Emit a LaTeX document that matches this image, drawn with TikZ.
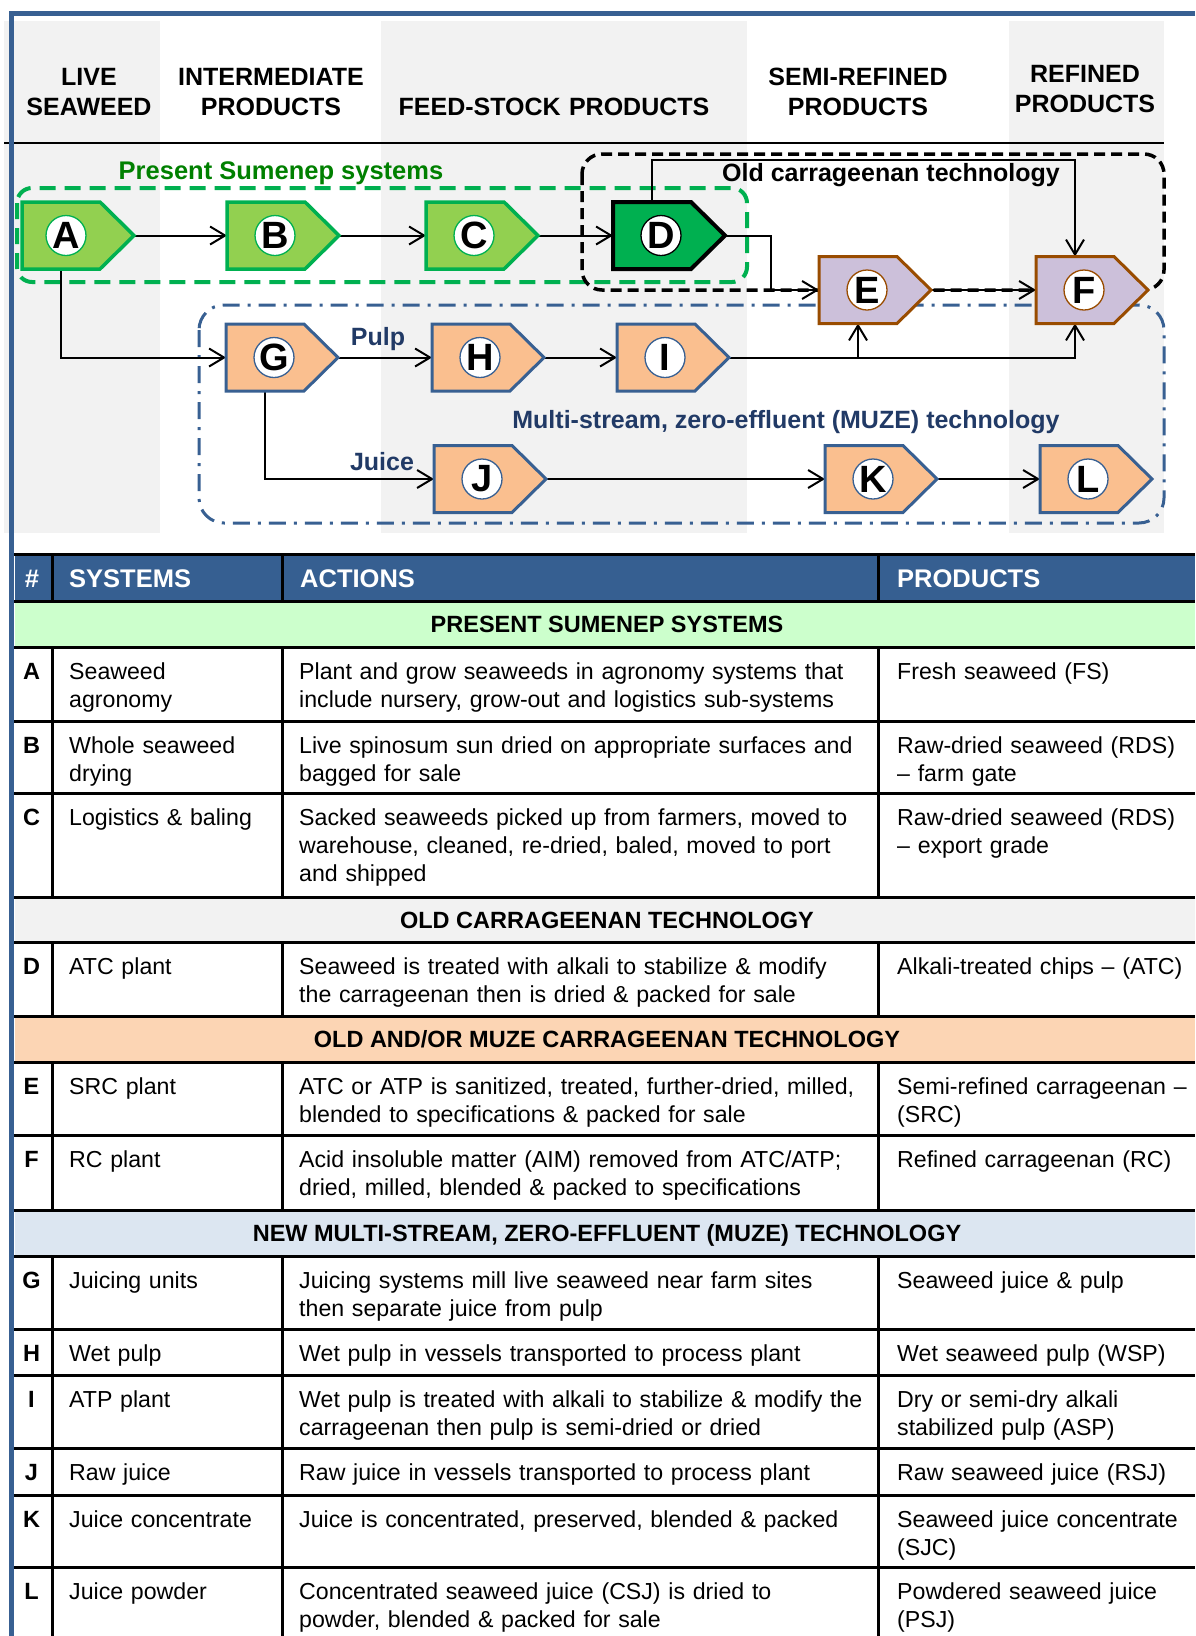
\documentclass[tikz,border=0pt]{standalone}
\usepackage{fontspec}
\setmainfont{Liberation Sans}
\usetikzlibrary{arrows.meta,calc}
\definecolor{frameblue}{RGB}{56,96,146}
\definecolor{hdrblue}{RGB}{54,95,145}
\definecolor{bandgray}{RGB}{242,242,242}
\definecolor{lgreen}{RGB}{146,208,80}
\definecolor{mgreen}{RGB}{0,176,80}
\definecolor{dgreen}{RGB}{0,128,0}
\definecolor{lav}{RGB}{204,192,218}
\definecolor{ebrown}{RGB}{153,76,0}
\definecolor{peach}{RGB}{250,191,143}
\definecolor{navytext}{RGB}{33,58,102}
\definecolor{secgreen}{RGB}{204,255,204}
\definecolor{secgray}{RGB}{242,242,242}
\definecolor{secorange}{RGB}{252,213,180}
\definecolor{secblue}{RGB}{220,230,241}

\newcommand{\drawstage}[4][-8]{%
  \path[#3] (#2.north west) -- ($(#2.north east)+(-34,0)$) -- (#2.east) -- ($(#2.south east)+(-34,0)$) -- (#2.south west) -- cycle;
  \node[lettercirc,draw=#4] (#2c) at ($(#2.center)+(#1,0)$) {#2};
}
\newcommand{\datarow}[5]{%
  \node[numtxt] (num#2) at (31.5,#1+32.5) {#2};
  \node[celltxt,text width=210pt] (sys#2) at (69,#1+32.5) {#3};
  \node[celltxt,text width=575pt] (act#2) at (299,#1+32.5) {#4};
  \node[celltxt,text width=300pt] (prd#2) at (897,#1+32.5) {#5};
}
\newcommand{\secrow}[5]{%
  \fill[#3] (15,#1) rectangle (1195,#2);
  \node[sectxt] (#4) at (607,#1+31) {#5};
}

\begin{document}
\begin{tikzpicture}[x=1pt,y=-1pt,
  stagebox/.style={minimum width=112pt,minimum height=67pt,inner sep=0pt,outer sep=0pt},
  greenstage/.style={fill=lgreen,draw=mgreen,line width=3.5pt},
  darkstage/.style={fill=mgreen,draw=black,line width=4pt},
  lavstage/.style={fill=lav,draw=ebrown,line width=3pt},
  peachstage/.style={fill=peach,draw=frameblue,line width=3pt},
  lettercirc/.style={circle,fill=white,minimum size=40pt,inner sep=0pt,line width=1.3pt,font=\fontsize{38}{38}\selectfont\bfseries},
  flow/.style={line width=2pt,-{Straight Barb[length=15pt,width=18pt]}},
  colhdr/.style={anchor=base,inner sep=0pt,text width=260pt,align=center,font=\fontsize{25}{30}\selectfont\bfseries},
  dlabel/.style={anchor=base,inner sep=0pt,font=\fontsize{25}{30}\selectfont\bfseries},
  tline/.style={line width=3pt},
  celltxt/.style={anchor=base west,inner sep=0pt,align=left,font=\fontsize{23.15}{28}\selectfont},
  numtxt/.style={anchor=base,inner sep=0pt,font=\fontsize{23.5}{28}\selectfont\bfseries},
  hdrtxt/.style={anchor=base west,inner sep=0pt,text=white,font=\fontsize{25.5}{30}\selectfont\bfseries},
  sectxt/.style={anchor=base,inner sep=0pt,font=\fontsize{23.5}{28}\selectfont\bfseries}
]
\useasboundingbox (0,0) rectangle (1195,1636);

% column bands
\fill[bandgray] (4,21) rectangle (160,533);
\fill[bandgray] (381,21) rectangle (747,533);
\fill[bandgray] (1009,21) rectangle (1164,533);
\draw[line width=1.5pt] (4,143) -- (1164,143);

% column headers
\node[colhdr] (hLive) at (89,85) {LIVE\\SEAWEED};
\node[colhdr] (hInter) at (271,85) {INTERMEDIATE\\PRODUCTS};
\node[colhdr,text width=400pt] (hFeed) at (554,115) {FEED-STOCK PRODUCTS};
\node[colhdr] (hSemi) at (858,85) {SEMI-REFINED\\PRODUCTS};
\node[colhdr] (hRef) at (1085,82) {REFINED\\PRODUCTS};

% group boxes
\draw[mgreen,line width=4pt,dash pattern=on 16pt off 9pt,rounded corners=15pt] (17,188) rectangle (747,282);
\draw[black,line width=3.5pt,dash pattern=on 11pt off 6pt,rounded corners=20pt] (582,154) rectangle (1164,290);
\draw[frameblue,line width=3pt,dash pattern=on 17pt off 8pt on 3pt off 8pt,rounded corners=25pt] (199,305) rectangle (1164,523);

% stage placeholders
\node[stagebox] (A) at (78,235.5) {};
\node[stagebox] (B) at (283,235.5) {};
\node[stagebox] (C) at (482,235.5) {};
\node[stagebox] (D) at (669,235.5) {};
\node[stagebox] (E) at (875,290) {};
\node[stagebox] (F) at (1092,290) {};
\node[stagebox] (G) at (282,357.5) {};
\node[stagebox] (H) at (488,357.5) {};
\node[stagebox] (I) at (673,357.5) {};
\node[stagebox] (J) at (490,479) {};
\node[stagebox] (K) at (881,479) {};
\node[stagebox] (L) at (1096,479) {};

\coordinate (Ebot) at ($(E.south)+(-17,0)$);
\coordinate (Fbot) at ($(F.south)+(-17,0)$);
\coordinate (Ftop) at ($(F.north)+(-17,0)$);

% connectors
\draw[flow] (A.east) -- (B.west);
\draw[flow] (B.east) -- (C.west);
\draw[flow] (C.east) -- (D.west);
\draw[flow] (D.east) -- ++(46,0) |- (E.west);
\draw[flow] (E.east) -- (F.west);
\draw[flow] ($(D.north)+(-17,0)$) -- ++(0,-42) -| (Ftop);
\draw[flow] ($(A.south)+(-17,0)$) |- (G.west);
\draw[flow] (G.east) -- (H.west);
\draw[flow] (H.east) -- (I.west);
\draw[flow] (I.east) -| (Fbot);
\draw[flow] (I.east -| Ebot) -- (Ebot);
\draw[flow] ($(G.south)+(-17,0)$) |- (J.west);
\draw[flow] (J.east) -- (K.west);
\draw[flow] (K.east) -- (L.west);

% stages
\drawstage[-12]{A}{greenstage}{mgreen}
\drawstage{B}{greenstage}{mgreen}
\drawstage{C}{greenstage}{mgreen}
\drawstage{D}{darkstage}{black}
\drawstage{E}{lavstage}{ebrown}
\drawstage{F}{lavstage}{ebrown}
\drawstage{G}{peachstage}{frameblue}
\drawstage{H}{peachstage}{frameblue}
\drawstage{I}{peachstage}{frameblue}
\drawstage{J}{peachstage}{frameblue}
\drawstage{K}{peachstage}{frameblue}
\drawstage{L}{peachstage}{frameblue}

% diagram labels
\node[dlabel,text=dgreen,font=\fontsize{25.5}{30}\selectfont\bfseries] (lblPresent) at (281,179) {Present Sumenep systems};
\node[dlabel] (lblOld) at (891,181) {Old carrageenan technology};
\node[dlabel,text=navytext] (lblPulp) at (378,345) {Pulp};
\node[dlabel,text=navytext] (lblJuice) at (382,470) {Juice};
\node[dlabel,text=navytext] (lblMuze) at (786,428) {Multi-stream, zero-effluent (MUZE) technology};

% table header
\fill[hdrblue] (15,554) rectangle (1195,601);
\node[hdrtxt,anchor=base] (thNum) at (32,587) {\#};
\node[hdrtxt] (thSys) at (69,587) {SYSTEMS};
\node[hdrtxt] (thAct) at (300,587) {ACTIONS};
\node[hdrtxt] (thPrd) at (897,587) {PRODUCTS};

% section rows
\secrow{601}{647}{secgreen}{secA}{PRESENT SUMENEP SYSTEMS}
\secrow{897}{942}{secgray}{secD}{OLD CARRAGEENAN TECHNOLOGY}
\secrow{1016}{1062}{secorange}{secE}{OLD AND/OR MUZE CARRAGEENAN TECHNOLOGY}
\secrow{1210}{1256}{secblue}{secG}{NEW MULTI-STREAM, ZERO-EFFLUENT (MUZE) TECHNOLOGY}

% table lines
\foreach \yy in {554,601,647,721,793,897,942,1016,1062,1135,1210,1256,1329,1375,1448,1495,1567}
  \draw[tline] (13,\yy) -- (1195,\yy);
\foreach \xx in {52,282,878}{
  \draw[tline] (\xx,554) -- (\xx,601);
  \draw[tline] (\xx,647) -- (\xx,897);
  \draw[tline] (\xx,942) -- (\xx,1016);
  \draw[tline] (\xx,1062) -- (\xx,1210);
  \draw[tline] (\xx,1256) -- (\xx,1636);
}

% table rows
\datarow{647}{A}{Seaweed\\agronomy}{Plant and grow seaweeds in agronomy systems that\\include nursery, grow-out and logistics sub-systems}{Fresh seaweed (FS)}
\datarow{721}{B}{Whole seaweed\\drying}{Live spinosum sun dried on appropriate surfaces and\\bagged for sale}{Raw-dried seaweed (RDS)\\– farm gate}
\datarow{793}{C}{Logistics \& baling}{Sacked seaweeds picked up from farmers, moved to\\warehouse, cleaned, re-dried, baled, moved to port\\and shipped}{Raw-dried seaweed (RDS)\\– export grade}
\datarow{942}{D}{ATC plant}{Seaweed is treated with alkali to stabilize \& modify\\the carrageenan then is dried \& packed for sale}{Alkali-treated chips – (ATC)}
\datarow{1062}{E}{SRC plant}{ATC or ATP is sanitized, treated, further-dried, milled,\\blended to specifications \& packed for sale}{Semi-refined carrageenan –\\(SRC)}
\datarow{1135}{F}{RC plant}{Acid insoluble matter (AIM) removed from ATC/ATP;\\dried, milled, blended \& packed to specifications}{Refined carrageenan (RC)}
\datarow{1256}{G}{Juicing units}{Juicing systems mill live seaweed near farm sites\\then separate juice from pulp}{Seaweed juice \& pulp}
\datarow{1329}{H}{Wet pulp}{Wet pulp in vessels transported to process plant}{Wet seaweed pulp (WSP)}
\datarow{1375}{I}{ATP plant}{Wet pulp is treated with alkali to stabilize \& modify the\\carrageenan then pulp is semi-dried or dried}{Dry or semi-dry alkali\\stabilized pulp (ASP)}
\datarow{1448}{J}{Raw juice}{Raw juice in vessels transported to process plant}{Raw seaweed juice (RSJ)}
\datarow{1495}{K}{Juice concentrate}{Juice is concentrated, preserved, blended \& packed}{Seaweed juice concentrate\\(SJC)}
\datarow{1567}{L}{Juice powder}{Concentrated seaweed juice (CSJ) is dried to\\powder, blended \& packed for sale}{Powdered seaweed juice\\(PSJ)}

% outer frame
\draw[frameblue,line width=5pt] (9,13.5) -- (1195,13.5);
\draw[frameblue,line width=5pt] (11.5,11) -- (11.5,1636);
\end{tikzpicture}
\end{document}
